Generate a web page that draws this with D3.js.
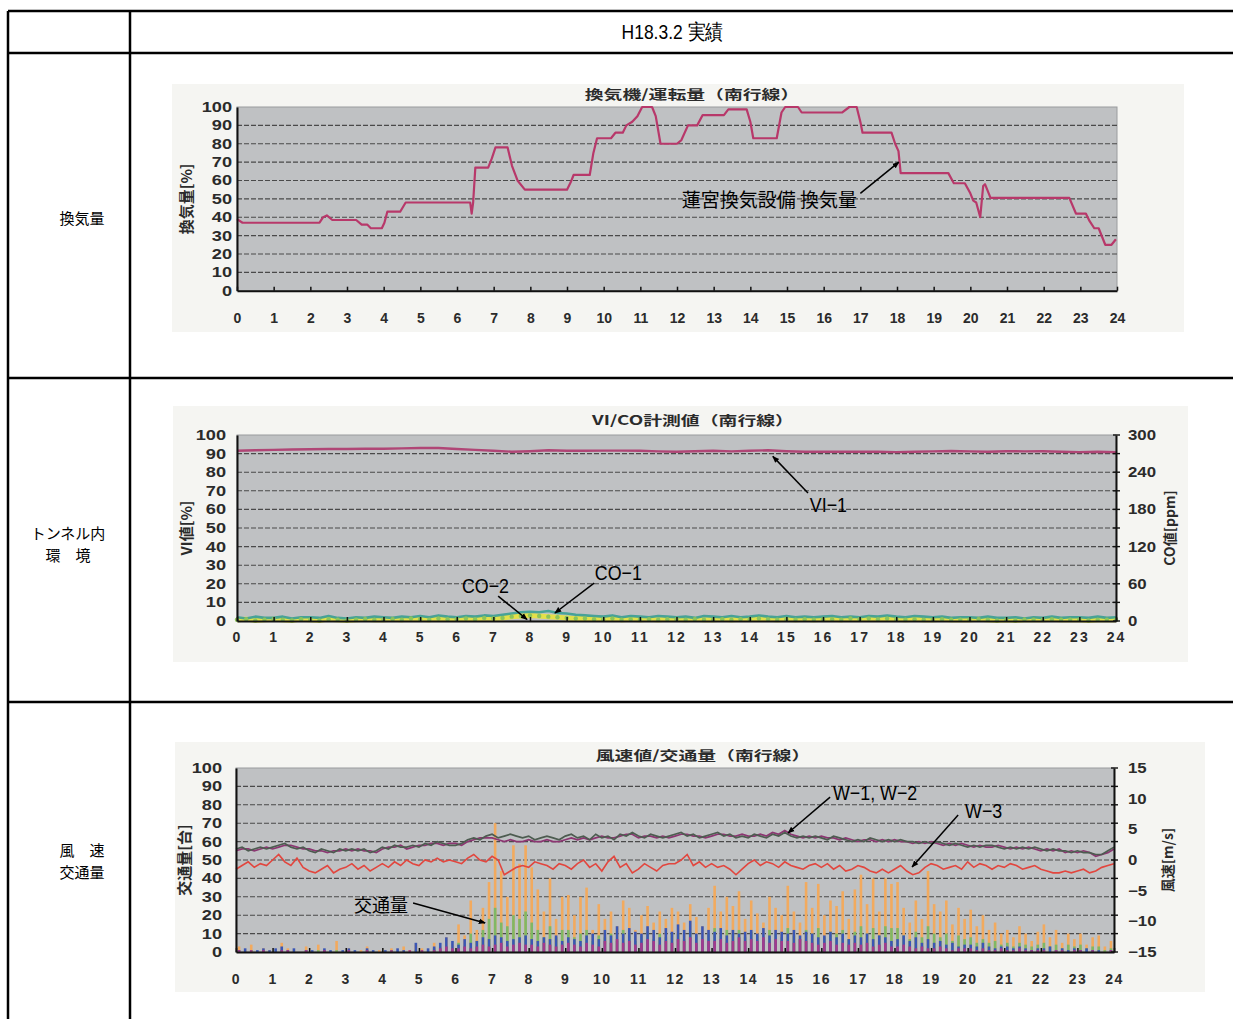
<!DOCTYPE html>
<html><head><meta charset="utf-8">
<script src="https://cdn.jsdelivr.net/npm/d3@7"></script>
<style>
html,body{margin:0;padding:0;background:#fff;}
svg{display:block;}
</style></head><body>
<svg id="c" width="1233" height="1019"></svg>
<script>
// ---- tick labels ----
const hourTicks = [0,1,2,3,4,5,6,7,8,9,10,11,12,13,14,15,16,17,18,19,20,21,22,23,24];
const pctTicks  = [0,10,20,30,40,50,60,70,80,90,100];
const coTicks   = [0,60,120,180,240,300];
const windTicks = [-15,-10,-5,0,5,10,15];

// ---- ventilation rate (step trace), hour / percent ----
const ventHour = [0.00,0.15,2.25,2.35,2.45,2.60,3.25,3.40,3.55,3.65,3.95,4.02,4.10,4.45,4.60,6.36,6.40,6.44,6.50,6.85,6.95,7.05,7.38,7.50,7.65,7.85,9.00,9.10,9.18,9.62,9.72,9.82,10.20,10.32,10.52,10.62,10.78,10.92,11.05,11.32,11.42,11.55,12.00,12.12,12.30,12.55,12.70,13.28,13.40,13.90,14.00,14.08,14.72,14.85,14.95,15.30,15.40,16.50,16.70,16.90,17.00,17.06,17.85,17.95,18.04,18.10,19.40,19.55,19.85,20.00,20.08,20.16,20.27,20.35,20.40,20.55,22.70,22.88,23.15,23.25,23.38,23.50,23.68,23.85,23.97];
const ventVal  = [39,37,37,40,41,38.5,38.5,36,36,34,34,37,43,43,48,48,42,48,67,67,72,78,78,68,60,55,55,59,63,63,75,83,83,86,86,90,92,95,100,100,95,80,80,82,90,90,95.6,95.6,98.7,98.7,92,83,83,97,100,100,97,97,100,100,92,86,86,80,76,64,64,58.5,58.5,53,49,48,40,57,58,50.5,50.5,42,42,38,34,34,25,25,28];

// ---- VI-1 (%), every 30 min ----
const viVal = [91.5,91.8,92,92.2,92.3,92.5,92.5,92.6,92.6,92.8,93,93,92.5,92,91.5,91,91.3,91.8,91.5,91.5,91.6,91.6,91.5,91.2,91,91.3,91.5,91.2,91.5,91.8,91.3,91,91,91,91,91,90.8,91,91.2,91.4,91.2,91,91.3,91.2,91.3,91,90.8,91,90.8];

// ---- CO (ppm), every 15 min ----
const co1Val = [6,4,7,5, 5,7,4,6, 6,5,8,5, 4,6,5,7, 6,5,7,6, 8,6,9,7, 6,8,7,9, 8,10,12,14, 15,14,16,13, 12,10,9,8, 7,9,6,8, 7,6,8,7, 6,7,5,8, 7,6,8,6, 7,9,7,6, 8,6,7,6, 7,8,6,7, 6,8,7,9, 7,6,8,7, 6,7,5,6, 6,5,7,5, 5,6,4,6, 5,7,5,6, 6,5,7,5, 6];
const co2Val = [2,3,1,2, 3,2,1,3, 2,1,3,2, 1,2,3,2, 2,3,2,4, 3,2,4,3, 3,4,3,5, 4,5,7,8, 9,8,7,6, 5,4,4,3, 3,4,2,3, 2,3,2,3, 3,2,3,2, 2,3,2,3, 3,4,3,2, 3,2,3,2, 3,3,2,4, 3,4,3,4, 3,2,3,2, 2,3,2,2, 2,3,2,1, 2,1,2,2, 2,3,2,2, 2,1,2,2, 2];

// ---- wind (left-axis units 0-100 ↔ -15..15 m/s), every 10 min ----
const w1Val = [56,57,55,56,57,56, 57,58,59,57,56,57, 55,54,56,55,54,56, 55,56,55,56,54,55, 57,56,58,57,57,58, 57,59,58,60,59,58, 58,59,61,62,61,63, 64,62,63,64,63,62, 63,61,62,63,62,61, 63,64,62,63,61,64, 62,63,61,64,63,65, 63,62,64,63,62,63, 64,65,63,64,62,63, 64,65,63,64,62,63, 62,64,63,62,64,63, 65,63,62,63,62,63, 62,61,63,62,61,60, 61,60,62,61,60,61, 60,61,60,60,59,60, 59,60,59,58,59,58, 57,58,57,58,58,57, 56,57,56,57,56,57, 56,55,56,55,55,54, 55,54,54,53,53,55, 57];
const w2Val = [55,56,56,55,56,57, 56,57,58,58,57,56, 56,55,55,54,55,55, 56,55,56,55,55,54, 56,57,57,58,56,57, 58,58,59,59,58,59, 59,58,60,61,62,62, 62,61,60,61,60,60, 61,60,60,61,60,60, 61,62,61,62,61,62, 63,62,62,63,64,64, 62,63,63,62,63,62, 63,64,64,63,63,62, 63,64,64,63,63,64, 63,63,64,63,65,64, 66,64,63,62,63,62, 63,62,62,61,62,61, 60,61,61,60,61,60, 61,60,60,59,60,59, 60,59,58,59,58,59, 58,57,58,57,57,58, 57,56,57,56,57,56, 55,56,55,56,54,55, 54,55,54,52,53,54, 56];
const w3Val = [45,47,49,46,48,47, 50,53,49,47,51,46, 44,43,45,47,43,45, 46,48,45,47,44,46, 48,46,49,47,50,48, 47,50,49,51,49,50, 49,48,51,53,50,49, 52,50,42,44,46,47, 46,49,48,47,45,48, 47,45,48,50,46,48, 44,49,52,46,48,43, 45,48,46,44,47,48, 48,50,53,47,49,46, 48,46,47,45,42,45, 48,50,47,49,48,46, 49,47,46,45,47,48, 46,48,45,47,44,45, 47,46,44,43,45,43, 45,47,44,42,43,46, 48,47,45,46,47,45, 49,46,48,47,45,47, 46,48,47,45,46,47, 45,44,43,43,44,43, 44,45,43,44,46,47, 48];

// ---- traffic (vehicles per 10 min) ----
const trafOrange = [3,1,4,0,2,1, 0,5,2,1,0,3, 0,4,1,0,6,0, 2,0,1,3,0,1, 0,2,0,3,1,4, 2,0,5,3,8,4, 15,9,28,12,24,38, 70,44,30,58,48,58, 46,34,22,40,18,30, 31,20,30,35,12,26, 18,22,14,28,24,12, 20,25,16,22,18,24, 22,16,26,19,14,24, 36,22,30,25,33,18, 28,21,16,30,24,20, 36,22,16,38,24,37, 20,28,25,33,18,34, 42,26,40,22,40,37, 38,24,16,28,18,44, 26,22,28,15,24,18, 23,14,20,12,16,10, 12,8,14,10,6,11, 15,8,12,5,10,7, 10,4,8,9,3,6];
const trafGreen  = [0,0,1,0,0,0, 0,1,0,0,0,1, 0,1,0,0,1,0, 0,0,0,1,0,0, 0,1,0,0,0,1, 0,0,2,1,3,1, 5,3,10,6,12,18, 24,16,14,20,18,22, 16,12,8,14,8,12, 12,8,10,12,6,9, 8,10,6,12,9,6, 9,11,7,10,8,10, 10,7,11,9,6,10, 13,9,12,10,12,8, 11,9,7,12,10,8, 13,9,7,12,10,13, 8,11,10,12,7,11, 14,10,13,9,14,13, 13,9,7,11,8,14, 10,8,10,6,9,7, 8,5,7,5,6,4, 5,3,5,4,3,4, 5,3,4,2,4,3, 4,2,3,3,1,2];
const trafBlue   = [1,2,0,1,2,1, 2,3,1,2,0,1, 1,0,2,1,0,1, 2,1,0,2,1,0, 1,0,2,1,0,5, 0,2,3,5,8,6, 4,7,5,6,8,7, 9,8,6,7,8,9, 7,6,8,7,9,6, 8,7,6,9,10,7, 12,9,14,10,13,11, 10,14,12,8,13,11, 15,12,17,10,14,12, 11,13,9,12,10,11, 12,10,13,9,12,11, 10,12,9,11,10,8, 9,11,8,10,7,9, 8,10,7,9,8,6, 7,9,6,8,5,7, 5,6,4,5,3,4, 4,3,5,3,2,3, 3,2,3,2,1,2, 2,3,1,2,1,2, 1,2,1,1,0,1];
const trafPurple = [1,0,1,0,1,0, 0,1,1,0,0,1, 0,0,1,0,0,0, 1,0,0,1,0,0, 0,1,0,0,1,0, 1,0,1,2,3,2, 2,3,2,3,4,3, 4,5,3,4,5,4, 4,3,5,4,3,4, 5,4,3,5,4,3, 6,5,7,5,6,4, 5,7,6,4,6,5, 7,6,8,5,7,6, 6,7,5,6,8,6, 7,6,8,5,7,6, 6,5,7,6,5,4, 5,6,4,5,4,5, 4,5,3,4,5,3, 3,4,3,2,3,2, 2,3,2,1,2,2, 2,1,2,1,1,2, 1,1,2,1,1,1, 1,0,1,1,0,1, 1,0,1,0,0,1];

// ---- drawing ----
const svg = d3.select('#c');
const NUM = "'Liberation Sans', Arial, sans-serif";
const JP  = "'Noto Sans CJK JP', 'Noto Sans', sans-serif";
const INK = '#2b2b2b';

const defs = svg.append('defs');
defs.append('marker').attr('id','arr').attr('viewBox','0 0 10 10')
  .attr('refX',9).attr('refY',5).attr('markerWidth',7).attr('markerHeight',7)
  .attr('orient','auto-start-reverse').attr('markerUnits','userSpaceOnUse')
  .append('path').attr('d','M0,1 L10,5 L0,9 Z').attr('fill','#000');

// table frame
const frame = svg.append('g').attr('stroke','#000').attr('stroke-width',2.5);
[[8,11,8,1019],[130,11,130,1019],[8,11,1233,11],[8,53,1233,53],[8,378,1233,378],[8,702,1233,702]]
  .forEach(l => frame.append('line').attr('x1',l[0]).attr('y1',l[1]).attr('x2',l[2]).attr('y2',l[3]));

svg.append('text').attr('transform','translate(672,39) scale(0.92,1.08)').attr('text-anchor','middle')
  .attr('font-family',NUM).attr('font-size',19).attr('fill','#000')
  .text('H18.3.2 実績');

// row headings
const rowLabels = [
  {lines:['換気量'], x:82, y:[224]},
  {lines:['トンネル内','環　境'], x:68, y:[539,561]},
  {lines:['風　速','交通量'], x:82, y:[856,878]}
];
rowLabels.forEach(r => r.lines.forEach((s,i) =>
  svg.append('text').attr('x',r.x).attr('y',r.y[i]).attr('text-anchor','middle')
    .attr('font-family',JP).attr('font-size',15).attr('fill','#000').text(s)));

const tScale = (x0,x1) => d3.scaleLinear().domain([0,24]).range([x0,x1]);

function frameChart(o){
  const g = svg.append('g');
  g.append('rect').attr('x',o.paper[0]).attr('y',o.paper[1]).attr('width',o.paper[2]).attr('height',o.paper[3]).attr('fill','#f5f5f2');
  const x = tScale(o.x0,o.x1);
  const y = d3.scaleLinear().domain([0,100]).range([o.y1,o.y0]);
  g.append('rect').attr('x',o.x0).attr('y',o.y0).attr('width',o.x1-o.x0).attr('height',o.y1-o.y0)
    .attr('fill','#bfc1c3').attr('stroke','#9a9c9e').attr('stroke-width',1);
  // dashed gridlines
  g.append('g').selectAll('line').data(pctTicks.filter(v=>v>0 && v<100)).join('line')
    .attr('x1',o.x0).attr('x2',o.x1).attr('y1',d=>y(d)).attr('y2',d=>y(d))
    .attr('stroke','#4a4a4a').attr('stroke-width',1.1).attr('stroke-dasharray','5,2');
  const layer = g.append('g');
  // left axis
  const ya = g.append('g').attr('transform',`translate(${o.x0},0)`)
    .call(d3.axisLeft(y).tickValues(pctTicks).tickSize(0).tickPadding(o.yPad));
  ya.select('.domain').attr('stroke','#111').attr('stroke-width',2);
  ya.selectAll('text').attr('font-family',NUM).attr('font-weight','bold').attr('font-size',14)
    .attr('fill',INK).attr('x',-o.yPad/1.3).attr('transform','scale(1.3,1)');
  // bottom axis
  const xa = g.append('g').attr('transform',`translate(0,${o.y1})`)
    .call(d3.axisBottom(x).tickValues(hourTicks).tickSizeInner(-4).tickSizeOuter(0).tickPadding(o.xPad));
  xa.select('.domain').attr('stroke','#111').attr('stroke-width',2);
  xa.selectAll('.tick line').attr('stroke','#111').attr('stroke-width',1.5);
  xa.selectAll('text').attr('font-family',NUM).attr('font-weight','bold').attr('font-size',14)
    .attr('fill',INK).attr('letter-spacing',o.xLs||0);
  // title
  g.append('text').attr('transform',`translate(${o.titleX},${o.titleY}) scale(1.45,1)`)
    .attr('text-anchor','middle').attr('font-family',JP).attr('font-weight','bold')
    .attr('font-size',13).attr('fill',INK).text(o.title);
  g.append('text').attr('transform',`translate(${o.yTitleX},${(o.y0+o.y1)/2}) rotate(-90)`)
    .attr('text-anchor','middle').attr('dy','0.35em').attr('font-family',JP).attr('font-weight','bold')
    .attr('font-size',15).attr('fill',INK).text(o.yTitle);
  if (o.right){
    const r = o.right;
    const ra = g.append('g').attr('transform',`translate(${o.x1},0)`)
      .call(d3.axisRight(r.scale).tickValues(r.ticks).tickSizeInner(0).tickSizeOuter(0).tickPadding(r.pad));
    ra.select('.domain').attr('stroke','#111').attr('stroke-width',2);
    ra.selectAll('text').attr('font-family',NUM).attr('font-weight','bold').attr('font-size',14)
      .attr('fill',INK).attr('x',r.pad/1.2).attr('transform','scale(1.2,1)');
    // minor ticks on the right axis at every gridline
    g.append('g').selectAll('line').data(pctTicks).join('line')
      .attr('x1',o.x1-3).attr('x2',o.x1+4).attr('y1',d=>y(d)).attr('y2',d=>y(d))
      .attr('stroke','#111').attr('stroke-width',1.4);
    g.append('text').attr('transform',`translate(${r.titleX},${(o.y0+o.y1)/2}) rotate(-90)`)
      .attr('text-anchor','middle').attr('dy','0.35em').attr('font-family',JP).attr('font-weight','bold')
      .attr('font-size',14).attr('fill',INK).text(r.title);
  }
  return {g:layer, x, y, top:g};
}

function note(g, tx, ty, txt, opts){
  g.append('text').attr('transform',`translate(${tx},${ty}) scale(${opts.sx||1},1)`)
    .attr('text-anchor',opts.anchor||'start').attr('font-family',opts.font||NUM)
    .attr('font-size',opts.size).attr('fill','#000').text(txt);
}
function arrow(g, x1,y1,x2,y2){
  g.append('line').attr('x1',x1).attr('y1',y1).attr('x2',x2).attr('y2',y2)
    .attr('stroke','#000').attr('stroke-width',1.5).attr('marker-end','url(#arr)');
}

// ===== chart 1 : 換気量 =====
{
  const c = frameChart({x0:237,x1:1117,y0:107,y1:290.7,paper:[172,84,1012,248],
    yPad:5,xPad:22,title:'換気機/運転量（南行線）',titleX:692,titleY:99,
    yTitle:'換気量[%]',yTitleX:187});
  const line = d3.line().x((d,i)=>c.x(ventHour[i])).y(d=>c.y(d)).curve(d3.curveLinear);
  c.g.append('path').attr('d',line(ventVal)).attr('fill','none')
    .attr('stroke','#b8386a').attr('stroke-width',2.2).attr('stroke-linejoin','round');
  const a = c.top.append('g');
  note(a, c.x(16.91), c.y(45.7), '蓮宮換気設備 換気量', {anchor:'end', size:19, font:JP});
  arrow(a, c.x(17.0), c.y(53), c.x(18.05), c.y(70));
}

// ===== chart 2 : VI / CO =====
{
  const coScale = d3.scaleLinear().domain([0,300]).range([621,435]);
  const c = frameChart({x0:237,x1:1116,y0:435,y1:621,paper:[173,406,1015,256],
    yPad:11,xPad:11,xLs:2,title:'VI/CO計測値（南行線）',titleX:693,titleY:425,
    yTitle:'VI値[%]',yTitleX:187,
    right:{scale:coScale,ticks:coTicks,pad:12,title:'CO値[ppm]',titleX:1170}});
  const tCo = i => c.x(i*0.25);
  const co = d3.line().x((d,i)=>tCo(i)).y(d=>coScale(d));
  c.g.append('path').attr('d',co(co2Val)).attr('fill','none').attr('stroke','#e4e04a').attr('stroke-width',5).attr('stroke-linejoin','round');
  c.g.append('path').attr('d',co(co1Val)).attr('fill','none').attr('stroke','#3a9e94').attr('stroke-width',2.6).attr('stroke-linejoin','round').attr('opacity',0.9);
  c.g.selectAll('circle.c2').data(co2Val).join('circle').attr('class','c2')
    .attr('cx',(d,i)=>tCo(i)).attr('cy',d=>coScale(d)).attr('r',2.2).attr('fill','#8cc45a');
  const vi = d3.line().x((d,i)=>c.x(i*0.5)).y(d=>c.y(d));
  c.g.append('path').attr('d',vi(viVal)).attr('fill','none').attr('stroke','#b04676').attr('stroke-width',2.4);
  const a = c.top.append('g');
  note(a, c.x(6.14), c.y(15), 'CO−2', {size:21, sx:0.85});
  arrow(a, c.x(7.13), c.y(13.4), c.x(7.92), c.y(0.8));
  note(a, c.x(9.77), c.y(22), 'CO−1', {size:21, sx:0.85});
  arrow(a, c.x(9.75), c.y(20.4), c.x(8.68), c.y(4.3));
  note(a, c.x(15.64), c.y(58.6), 'VI−1', {size:21, sx:0.85});
  arrow(a, c.x(15.59), c.y(68.8), c.x(14.63), c.y(88.5));
}

// ===== chart 3 : wind / traffic =====
{
  const wScale = d3.scaleLinear().domain([-15,15]).range([952,768]);
  const c = frameChart({x0:236,x1:1114,y0:768,y1:952,paper:[175,742,1030,250],
    yPad:14,xPad:22,xLs:1.5,title:'風速値/交通量（南行線）',titleX:703,titleY:760,
    yTitle:'交通量[台]',yTitleX:185,
    right:{scale:wScale,ticks:windTicks,pad:14,title:'風速[m/s]',titleX:1168}});
  const bw = 2.6;
  const binX = i => c.x(i/6) + (c.x(1/6)-c.x(0))/2 - bw/2;
  [[trafOrange,'#f2aa5e'],[trafGreen,'#7fb865'],[trafBlue,'#3a56b4'],[trafPurple,'#a23a8c']].forEach(([arr,col]) => {
    c.g.append('g').selectAll('rect').data(arr).join('rect')
      .attr('x',(d,i)=>binX(i)).attr('width',bw)
      .attr('y',d=>c.y(d)).attr('height',d=>c.y(0)-c.y(d)).attr('fill',col);
  });
  const wl = d3.line().x((d,i)=>c.x(i/6)).y(d=>c.y(d));
  c.g.append('path').attr('d',wl(w3Val)).attr('fill','none').attr('stroke','#e2463e').attr('stroke-width',1.6);
  c.g.append('path').attr('d',wl(w2Val)).attr('fill','none').attr('stroke','#8c3672').attr('stroke-width',1.7);
  c.g.append('path').attr('d',wl(w1Val)).attr('fill','none').attr('stroke','#4d5c50').attr('stroke-width',1.7);
  const a = c.top.append('g');
  note(a, c.x(16.32), c.y(82.6), 'W−1, W−2', {size:21, sx:0.85});
  arrow(a, c.x(16.24), c.y(84.2), c.x(15.09), c.y(64.7));
  note(a, c.x(19.93), c.y(72.8), 'W−3', {size:21, sx:0.85});
  arrow(a, c.x(19.74), c.y(74.5), c.x(18.48), c.y(46.2));
  note(a, c.x(4.70), c.y(21.7), '交通量', {anchor:'end', size:18, font:JP});
  arrow(a, c.x(4.84), c.y(26.6), c.x(6.81), c.y(15.8));
}
</script></body></html>
